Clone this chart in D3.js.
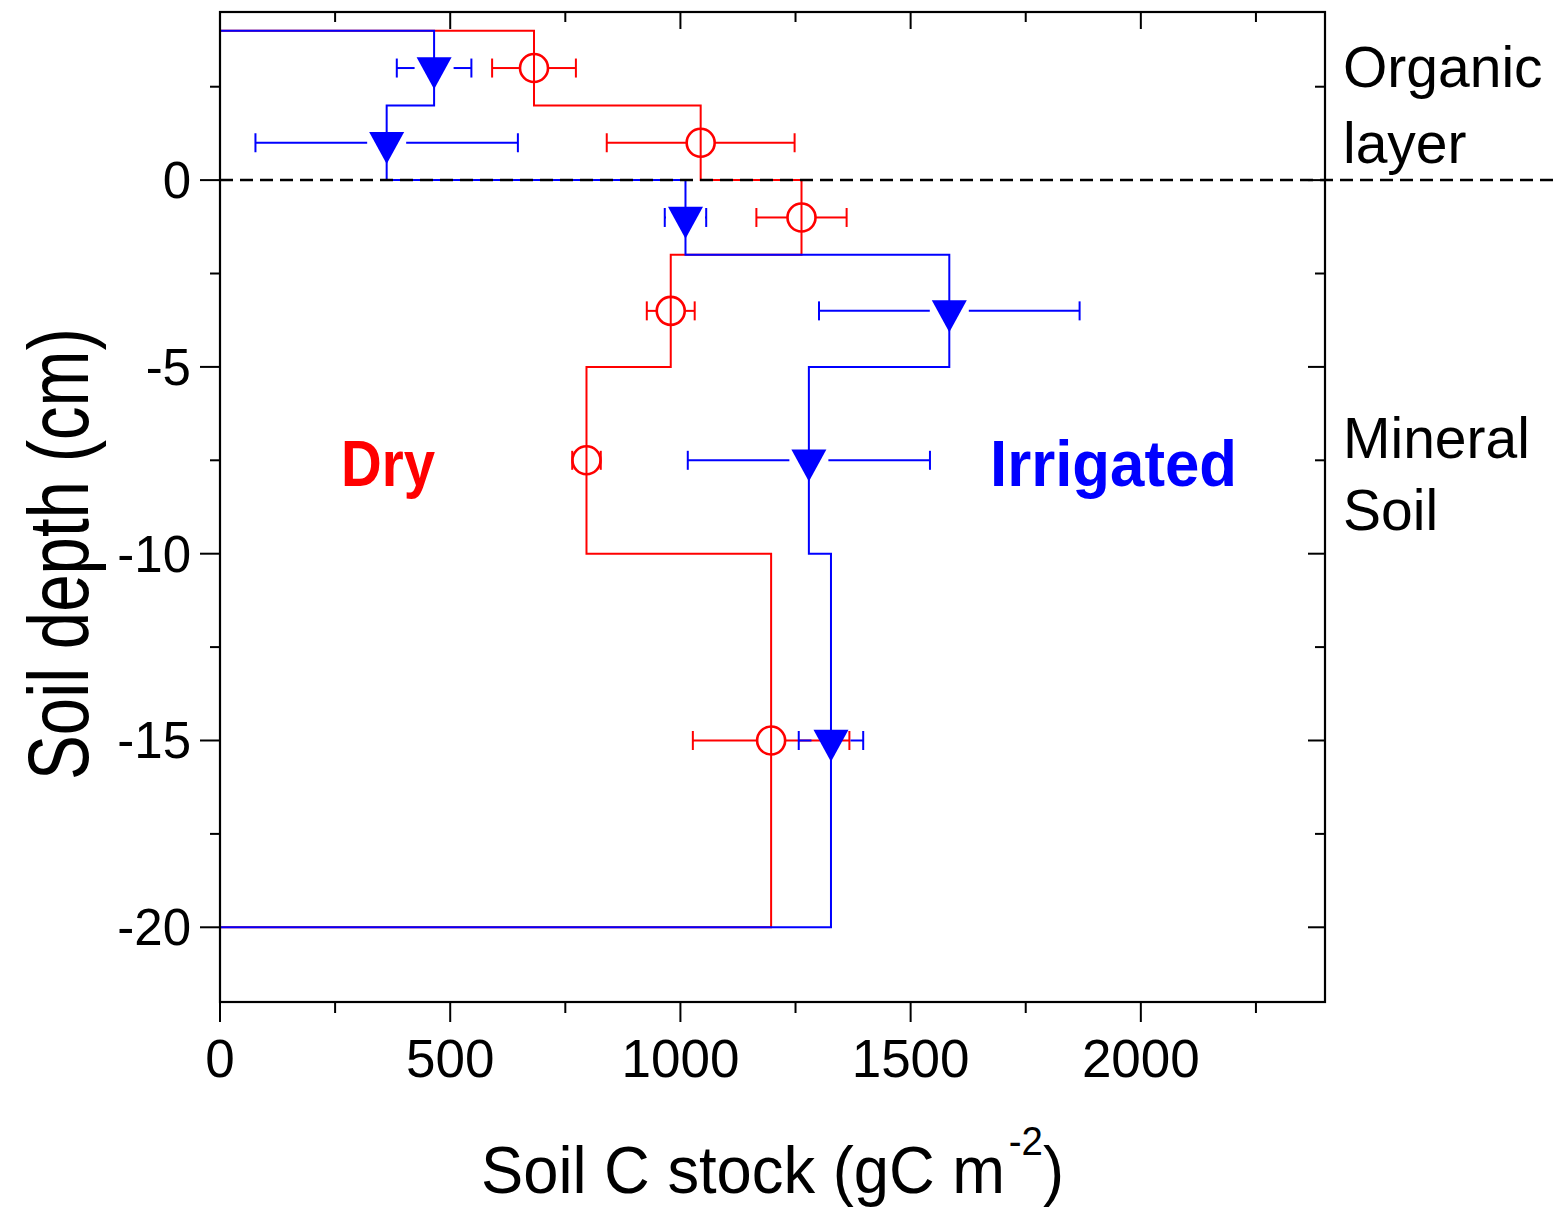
<!DOCTYPE html>
<html>
<head>
<meta charset="utf-8">
<script src="https://cdn.jsdelivr.net/npm/d3@7"></script>
<style>
  body { margin: 0; background: #fff; }
  text { font-family: "Liberation Sans", Arial, sans-serif; }
</style>
</head>
<body>
<svg width="1554" height="1208"></svg>
<script>
// layer boundaries (cm) and mid depths where the markers sit
var depthBounds = [4, 2, 0, -2, -5, -10, -20];
var midDepth    = [3, 1, -1, -3.5, -7.5, -15];

// soil C stock, gC m-2
var dryC    = [682, 1044, 1263, 979, 796, 1197];
var dryErr  = [91, 204, 98, 52, 31, 170];
var irrC    = [465, 362, 1011, 1584, 1279, 1327];
var irrErr  = [81, 285, 45, 283, 263, 70];

var xTicks      = [0, 500, 1000, 1500, 2000];
var xMinorTicks = [250, 750, 1250, 1750, 2250];
var yTicks      = [0, -5, -10, -15, -20];
var yMinorTicks = [2.5, -2.5, -7.5, -12.5, -17.5];

var svg = d3.select("svg");

var red  = "#FF0000",
    blue = "#0000FF";

// plot frame (note: "top" is reserved on window, so pTop etc.)
var pLeft = 220, pRight = 1325, pTop = 12, pBottom = 1002;

var x = d3.scaleLinear().domain([0, 2400]).range([pLeft, pRight]);
var y = d3.scaleLinear().domain([-22, 4.5]).range([pBottom, pTop]);

// step profile: starts at the top on the y axis, ends below -20
function stepPoints(vals) {
  var pts = [[0, 4.5], [0, depthBounds[0]]];
  vals.forEach(function (v, i) {
    pts.push([v, depthBounds[i]]);
    pts.push([v, depthBounds[i + 1]]);
  });
  pts.push([0, -20]);
  pts.push([0, -21]);
  return pts;
}

var line = d3.line().x(function (d) { return x(d[0]); }).y(function (d) { return y(d[1]); });

svg.append("path").attr("d", line(stepPoints(dryC)))
    .attr("fill", "none").attr("stroke", red).attr("stroke-width", 2);
svg.append("path").attr("d", line(stepPoints(irrC)))
    .attr("fill", "none").attr("stroke", blue).attr("stroke-width", 2);

// zero line, runs past the frame to the page edge
svg.append("line")
    .attr("x1", x(0)).attr("x2", 1554)
    .attr("y1", y(0)).attr("y2", y(0))
    .attr("stroke", "#000").attr("stroke-width", 2.5)
    .attr("stroke-dasharray", "13,7");

// error bars, skipping the marker
function errorBars(vals, errs, gap, color) {
  var g = svg.append("g").attr("stroke", color).attr("stroke-width", 2).attr("fill", "none");
  vals.forEach(function (v, i) {
    var cy = y(midDepth[i]), cx = x(v);
    var x0 = x(v - errs[i]), x1 = x(v + errs[i]);
    if (cx - gap > x0) g.append("line").attr("x1", x0).attr("x2", cx - gap).attr("y1", cy).attr("y2", cy);
    if (cx + gap < x1) g.append("line").attr("x1", cx + gap).attr("x2", x1).attr("y1", cy).attr("y2", cy);
    g.append("line").attr("x1", x0).attr("x2", x0).attr("y1", cy - 9.5).attr("y2", cy + 9.5);
    g.append("line").attr("x1", x1).attr("x2", x1).attr("y1", cy - 9.5).attr("y2", cy + 9.5);
  });
}

errorBars(dryC, dryErr, 14, red);
svg.append("g").selectAll("circle")
    .data(dryC)
    .join("circle")
      .attr("cx", function (d) { return x(d); })
      .attr("cy", function (d, i) { return y(midDepth[i]); })
      .attr("r", 14)
      .attr("fill", "none")
      .attr("stroke", red)
      .attr("stroke-width", 2.6);

errorBars(irrC, irrErr, 19.5, blue);
svg.append("g").selectAll("path")
    .data(irrC)
    .join("path")
      .attr("transform", function (d, i) { return "translate(" + x(d) + "," + y(midDepth[i]) + ")"; })
      .attr("d", "M-17.5,-10.7 L17.5,-10.7 L0,21.3 Z")
      .attr("fill", blue);

// frame
svg.append("rect")
    .attr("x", pLeft).attr("y", pTop)
    .attr("width", pRight - pLeft).attr("height", pBottom - pTop)
    .attr("fill", "none").attr("stroke", "#000").attr("stroke-width", 2.2);

// ticks: outward on bottom/left, inward on top/right
var tk = svg.append("g").attr("stroke", "#000").attr("stroke-width", 2);
xTicks.forEach(function (t) {
  tk.append("line").attr("x1", x(t)).attr("x2", x(t)).attr("y1", pBottom).attr("y2", pBottom + 20);
  tk.append("line").attr("x1", x(t)).attr("x2", x(t)).attr("y1", pTop).attr("y2", pTop + 17);
});
xMinorTicks.forEach(function (t) {
  tk.append("line").attr("x1", x(t)).attr("x2", x(t)).attr("y1", pBottom).attr("y2", pBottom + 11);
  tk.append("line").attr("x1", x(t)).attr("x2", x(t)).attr("y1", pTop).attr("y2", pTop + 10);
});
yTicks.forEach(function (t) {
  tk.append("line").attr("x1", pLeft - 20).attr("x2", pLeft).attr("y1", y(t)).attr("y2", y(t));
  tk.append("line").attr("x1", pRight - 17).attr("x2", pRight).attr("y1", y(t)).attr("y2", y(t));
});
yMinorTicks.forEach(function (t) {
  tk.append("line").attr("x1", pLeft - 10).attr("x2", pLeft).attr("y1", y(t)).attr("y2", y(t));
  tk.append("line").attr("x1", pRight - 10).attr("x2", pRight).attr("y1", y(t)).attr("y2", y(t));
});

// tick labels
svg.append("g").selectAll("text")
    .data(xTicks)
    .join("text")
      .attr("x", function (d) { return x(d); })
      .attr("y", 1077)
      .attr("text-anchor", "middle")
      .attr("font-size", 53)
      .text(function (d) { return d; });

svg.append("g").selectAll("text")
    .data(yTicks)
    .join("text")
      .attr("x", 191)
      .attr("y", function (d) { return y(d) + 18; })
      .attr("text-anchor", "end")
      .attr("font-size", 51)
      .text(function (d) { return d; });

// axis titles
var xt = svg.append("text")
    .attr("x", (pLeft + pRight) / 2)
    .attr("y", 1193)
    .attr("text-anchor", "middle")
    .attr("font-size", 66)
    .attr("textLength", 583)
    .attr("lengthAdjust", "spacingAndGlyphs");
xt.append("tspan").text("Soil C stock (gC m");
xt.append("tspan").attr("font-size", 40).attr("dx", 4).attr("dy", -38).text("-2");
xt.append("tspan").attr("dy", 38).text(")");

svg.append("text")
    .attr("transform", "translate(88,554) rotate(-90)")
    .attr("text-anchor", "middle")
    .attr("font-size", 86)
    .attr("textLength", 452)
    .attr("lengthAdjust", "spacingAndGlyphs")
    .text("Soil depth (cm)");

// series labels
svg.append("text")
    .attr("x", 341).attr("y", 486)
    .attr("font-size", 64).attr("font-weight", "bold")
    .attr("fill", red)
    .attr("textLength", 94).attr("lengthAdjust", "spacingAndGlyphs")
    .text("Dry");
svg.append("text")
    .attr("x", 990).attr("y", 486)
    .attr("font-size", 64).attr("font-weight", "bold")
    .attr("fill", blue)
    .attr("textLength", 247).attr("lengthAdjust", "spacingAndGlyphs")
    .text("Irrigated");

// layer annotations
var notes = [["Organic", 87], ["layer", 163], ["Mineral", 458], ["Soil", 530]];
notes.forEach(function (n) {
  svg.append("text")
      .attr("x", 1343).attr("y", n[1])
      .attr("font-size", 57)
      .text(n[0]);
});
</script>
</body>
</html>
